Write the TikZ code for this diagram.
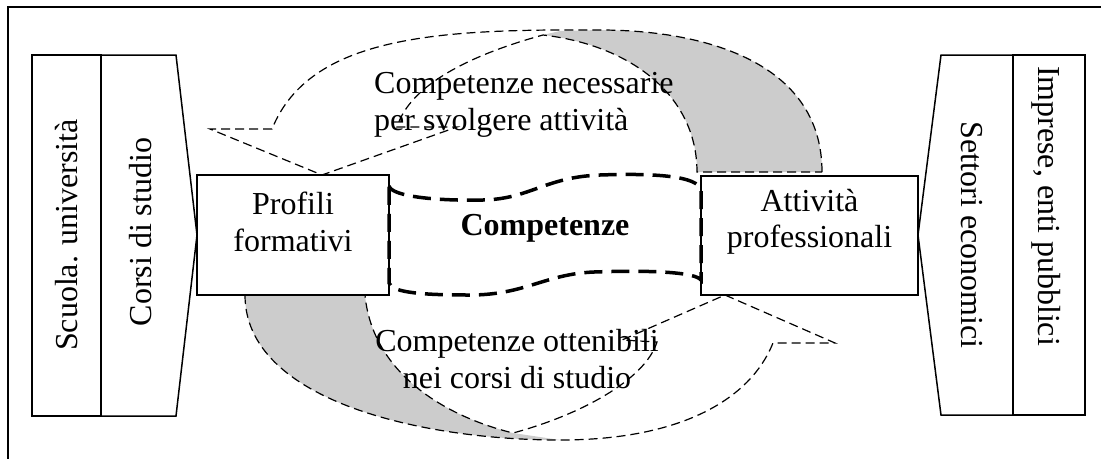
\documentclass[tikz,border=0pt]{standalone}
\usepackage{fontspec}
\setmainfont{Liberation Serif}

\begin{document}
\begin{tikzpicture}[x=1pt,y=-1pt,
    every node/.style={inner sep=0pt,font=\fontsize{32}{36.5}\selectfont},
    box/.style={draw,line width=1.5pt},
    arr/.style={line width=1.2pt,dash pattern=on 9pt off 5pt},
    wave/.style={line width=3.5pt,dash pattern=on 18pt off 9pt},
    shade/.style={fill=black!20}]%
  \useasboundingbox (0,0) rectangle (1101,459);
  \draw[line width=1.6pt] (1101,7) -- (8,7) -- (8,459);
  % side blocks
  \draw[box] (32,55) rectangle (101,416);
  \draw[box] (101,55) -- (176,55) -- (197,235) -- (176,416) -- (101,416);
  \draw[box] (1013,55) rectangle (1085,415);
  \draw[box] (1013,55) -- (941,55) -- (918,235) -- (941,415) -- (1013,415);
  \node[rotate=90] (scuola) at (67,235) {Scuola. università};
  \node[rotate=90] (corsi) at (141,232) {Corsi di studio};
  \node[rotate=-90] (settori) at (972,235) {Settori economici};
  \node[rotate=-90] (imprese) at (1046,206) {Imprese, enti pubblici};
  % grey bands
  \fill[shade] (543,35) .. controls (630,45) and (697,95) .. (697,172) -- (822,172)
    .. controls (822,60) and (700,30) .. (600,30) -- (560,31) -- cycle;
  \fill[shade] (245,295) .. controls (245,400) and (420,440) .. (560,440) -- (513,433)
    .. controls (440,415) and (372,370) .. (365,295) -- cycle;
  % curved arrows
  \draw[arr] (822,172) .. controls (822,60) and (700,30) .. (600,30)
    .. controls (440,29) and (310,35) .. (272,129) -- (210,129) -- (322,175)
    -- (457,127) -- (397,127) .. controls (410,85) and (470,55) .. (543,35)
    .. controls (630,45) and (697,95) .. (697,172) -- cycle;
  \draw[arr] (245,295) .. controls (245,400) and (420,440) .. (560,440)
    .. controls (680,440) and (750,400) .. (773,343) -- (835,343) -- (725,295)
    -- (622,340) -- (657,342) .. controls (645,380) and (580,415) .. (513,433)
    .. controls (440,415) and (372,370) .. (365,295) -- cycle;
  % boxes
  \node[box,minimum width=192pt,minimum height=120pt] (profili) at (293,235) {};
  \node[box,minimum width=217pt,minimum height=119pt] (attivita) at (809.5,235.5) {};
  \node[align=center] (profilitxt) at (293,222) {Profili\\formativi};
  \node[align=center] (attivitatxt) at (809.5,222) {Attività\\professionali};
  \draw[wave] (389,186) .. controls (392,197) and (440,201) .. (483,200)
    .. controls (530,199) and (545,177) .. (600,175)
    .. controls (655,173) and (698,176) .. (701,190) -- (701,280)
    .. controls (695,272) and (650,270) .. (594,272)
    .. controls (545,274) and (525,295) .. (470,295)
    .. controls (425,295) and (392,293) .. (389,283) -- cycle;
  \node (comp) at (545,228) {\textbf{Competenze}};
  \node[align=left,anchor=west] (necessarie) at (374,105) {Competenze necessarie\\per svolgere attività};
  \node[align=center] (ottenibili) at (517,359) {Competenze ottenibili\\nei corsi di studio};
\end{tikzpicture}
\end{document}
